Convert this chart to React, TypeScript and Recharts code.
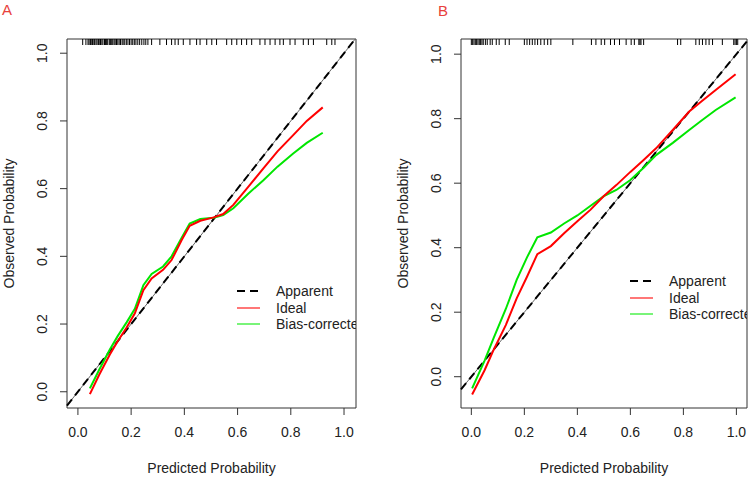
import React from 'react';
import {
  ComposedChart,
  Line,
  Scatter,
  XAxis,
  YAxis,
  ReferenceArea,
  ReferenceLine,
  Label,
} from 'recharts';

// panel A
const aX = [0.045, 0.08, 0.12, 0.15, 0.183, 0.214, 0.246, 0.277, 0.32, 0.352, 0.39, 0.42, 0.46, 0.51, 0.546, 0.584, 0.64, 0.697, 0.75, 0.809, 0.86, 0.92];
const aIdeal = [-0.007, 0.05, 0.11, 0.15, 0.19, 0.232, 0.3, 0.335, 0.36, 0.389, 0.448, 0.49, 0.505, 0.515, 0.525, 0.552, 0.605, 0.66, 0.71, 0.758, 0.8, 0.84];
const aBias = [0.01, 0.065, 0.125, 0.165, 0.205, 0.245, 0.315, 0.348, 0.37, 0.4, 0.455, 0.497, 0.51, 0.514, 0.522, 0.542, 0.585, 0.625, 0.665, 0.704, 0.735, 0.765];
const aRug = [
  0.018, 0.03, 0.038, 0.042, 0.047, 0.05, 0.055, 0.06, 0.063, 0.068, 0.072, 0.077, 0.08, 0.085, 0.09, 0.094,
  0.1, 0.104, 0.108, 0.112, 0.118, 0.122, 0.127, 0.131, 0.136, 0.14, 0.145, 0.15, 0.155, 0.16, 0.166, 0.17,
  0.176, 0.182, 0.188, 0.194, 0.2, 0.206, 0.212, 0.218, 0.225, 0.232, 0.24, 0.248, 0.255, 0.263, 0.277, 0.308,
  0.333, 0.352, 0.365, 0.377, 0.396, 0.421, 0.446, 0.459, 0.484, 0.503, 0.521, 0.559, 0.578, 0.597, 0.615,
  0.634, 0.653, 0.684, 0.703, 0.722, 0.741, 0.759, 0.772, 0.797, 0.816, 0.847, 0.866, 0.885, 0.935, 0.954, 0.966,
];

// panel B
const bX = [0.003, 0.05, 0.084, 0.13, 0.171, 0.21, 0.249, 0.3, 0.35, 0.4, 0.45, 0.5, 0.547, 0.6, 0.65, 0.697, 0.76, 0.822, 0.87, 0.922, 0.997];
const bIdeal = [-0.055, 0.02, 0.083, 0.16, 0.243, 0.31, 0.38, 0.405, 0.445, 0.482, 0.518, 0.56, 0.594, 0.635, 0.672, 0.708, 0.765, 0.822, 0.855, 0.889, 0.938];
const bBias = [-0.036, 0.05, 0.12, 0.21, 0.3, 0.37, 0.432, 0.447, 0.475, 0.5, 0.53, 0.56, 0.579, 0.61, 0.648, 0.687, 0.725, 0.765, 0.795, 0.827, 0.866];
const bRug = [
  0.0, 0.005, 0.01, 0.015, 0.02, 0.025, 0.03, 0.035, 0.04, 0.045, 0.053, 0.06, 0.071, 0.079, 0.094, 0.105,
  0.128, 0.143, 0.2, 0.21, 0.22, 0.23, 0.24, 0.25, 0.262, 0.275, 0.288, 0.3, 0.383, 0.453, 0.47, 0.49,
  0.503, 0.525, 0.54, 0.559, 0.584, 0.603, 0.615, 0.632, 0.636, 0.64, 0.65, 0.778, 0.79, 0.847, 0.86,
  0.872, 0.885, 0.897, 0.91, 0.947, 0.99, 0.995, 1.0, 1.005,
];

const axisTicks = [0, 0.2, 0.4, 0.6, 0.8, 1.0];
const legendItems = [
  { name: 'Apparent', color: '#000', width: 2, dash: '8 5' },
  { name: 'Ideal', color: '#ff4a4a', width: 1.5, dash: undefined },
  { name: 'Bias-corrected', color: '#4cf04c', width: 1.5, dash: undefined },
];

const FONT = '"Liberation Sans", Arial, sans-serif';
const INK = '#222';

function YTick(props: any) {
  const { x, y, payload } = props;
  return (
    <text x={x} y={y} transform={`rotate(-90, ${x}, ${y})`} textAnchor="middle" fill={INK} fontSize={14} fontFamily={FONT}>
      {Number(payload.value).toFixed(1)}
    </text>
  );
}

function RugTick(props: any) {
  const { cx, cy } = props;
  return <line x1={cx} y1={cy} x2={cx} y2={cy + 6} stroke="#000" strokeWidth={1} />;
}

interface PanelProps {
  letter: string;
  left: number;
  xs: number[];
  ideal: number[];
  bias: number[];
  rug: number[];
  xDomain: [number, number];
  yDomain: [number, number];
  yAxisWidth: number;
  marginRight: number;
  legend: { left: number; top: number; width: number };
  letterPos: { x: number; y: number };
}

function Panel({ letter, left, xs, ideal, bias, rug, xDomain, yDomain, yAxisWidth, marginRight, legend, letterPos }: PanelProps) {
  const idealData = xs.map((x, i) => ({ x, y: ideal[i] }));
  const biasData = xs.map((x, i) => ({ x, y: bias[i] }));
  const rugData = rug.map((x) => ({ x, y: yDomain[1] }));
  const lo = Math.max(xDomain[0], yDomain[0]);
  const hi = Math.min(xDomain[1], yDomain[1]);

  return (
    <div style={{ position: 'absolute', left, top: 0, width: 375, height: 478 }}>
      <ComposedChart width={375} height={478} margin={{ top: 39, right: marginRight, bottom: 10, left: 0 }}>
        <XAxis
          type="number"
          dataKey="x"
          domain={xDomain}
          allowDataOverflow
          ticks={axisTicks}
          tickFormatter={(v: number) => v.toFixed(1)}
          axisLine={false}
          tickSize={7}
          tickMargin={12}
          height={60}
          tickLine={{ stroke: '#333' }}
          tick={{ fill: INK, fontSize: 14, fontFamily: FONT }}
        >
          <Label
            content={(p: any) => {
              const vb = p.viewBox;
              return (
                <text x={vb.x + vb.width / 2} y={vb.y + 65} textAnchor="middle" fill={INK} fontSize={14} fontFamily={FONT}>
                  Predicted Probability
                </text>
              );
            }}
          />
        </XAxis>
        <YAxis
          type="number"
          dataKey="y"
          domain={yDomain}
          allowDataOverflow
          ticks={axisTicks}
          axisLine={false}
          tickSize={7}
          tickMargin={13}
          width={yAxisWidth}
          tickLine={{ stroke: '#333' }}
          tick={<YTick />}
        >
          <Label
            content={(p: any) => {
              const vb = p.viewBox;
              const tx = vb.x + vb.width - 53.5;
              const ty = vb.y + vb.height / 2;
              return (
                <text x={tx} y={ty} transform={`rotate(-90, ${tx}, ${ty})`} textAnchor="middle" fill={INK} fontSize={14} fontFamily={FONT}>
                  Observed Probability
                </text>
              );
            }}
          />
        </YAxis>
        <ReferenceArea x1={xDomain[0]} x2={xDomain[1]} y1={yDomain[0]} y2={yDomain[1]} fill="none" stroke="#333" strokeWidth={1} ifOverflow="visible" />
        <ReferenceLine segment={[{ x: lo, y: lo }, { x: hi, y: hi }]} stroke="#666" strokeWidth={1} ifOverflow="visible" />
        <ReferenceLine segment={[{ x: lo, y: lo }, { x: hi, y: hi }]} stroke="#000" strokeWidth={2} strokeDasharray="8 5" ifOverflow="visible" />
        <Line data={biasData} dataKey="y" type="linear" stroke="#00e600" strokeWidth={2} dot={false} isAnimationActive={false} />
        <Line data={idealData} dataKey="y" type="linear" stroke="#ff0000" strokeWidth={2} dot={false} isAnimationActive={false} />
        <Scatter data={rugData} dataKey="y" shape={<RugTick />} isAnimationActive={false} />
      </ComposedChart>
      <div
        style={{
          position: 'absolute',
          left: legend.left,
          top: legend.top,
          width: legend.width,
          overflow: 'hidden',
          whiteSpace: 'nowrap',
          fontFamily: FONT,
          fontSize: 14,
          color: INK,
          lineHeight: '16.5px',
        }}
      >
        {legendItems.map((it) => (
          <div key={it.name} style={{ display: 'flex', alignItems: 'center', height: 16.5 }}>
            <svg width={39} height={16} style={{ flex: 'none' }}>
              <line x1={0} y1={8} x2={23} y2={8} stroke={it.color} strokeWidth={it.width} strokeDasharray={it.dash} />
            </svg>
            <span>{it.name}</span>
          </div>
        ))}
      </div>
      <div
        style={{
          position: 'absolute',
          left: letterPos.x,
          top: letterPos.y,
          color: '#e8413c',
          fontFamily: FONT,
          fontSize: 15,
          lineHeight: '15px',
        }}
      >
        {letter}
      </div>
    </div>
  );
}

export default function App() {
  return (
    <div style={{ position: 'absolute', left: 0, top: 0, width: 750, height: 478, background: '#fff', overflow: 'hidden' }}>
      <Panel
        letter="A"
        left={0}
        xs={aX}
        ideal={aIdeal}
        bias={aBias}
        rug={aRug}
        xDomain={[-0.041, 1.045]}
        yDomain={[-0.048, 1.042]}
        yAxisWidth={67}
        marginRight={19}
        legend={{ left: 237, top: 283, width: 119 }}
        letterPos={{ x: 2, y: 2 }}
      />
      <Panel
        letter="B"
        left={375}
        xs={bX}
        ideal={bIdeal}
        bias={bBias}
        rug={bRug}
        xDomain={[-0.039, 1.04]}
        yDomain={[-0.097, 1.047]}
        yAxisWidth={86}
        marginRight={3}
        legend={{ left: 255, top: 273, width: 117 }}
        letterPos={{ x: 63, y: 3 }}
      />
    </div>
  );
}
